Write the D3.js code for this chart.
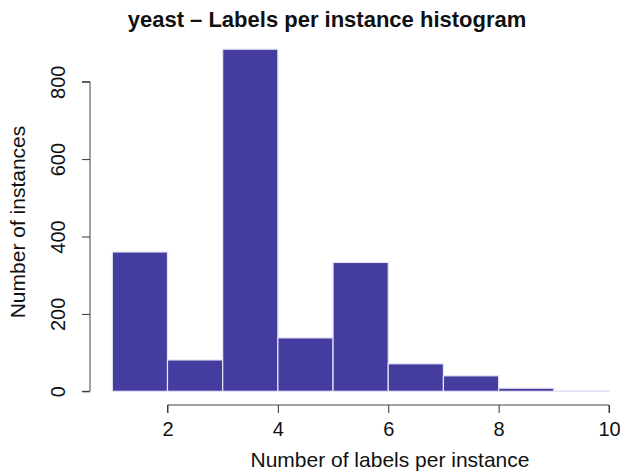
<!DOCTYPE html>
<html>
<head>
<meta charset="utf-8">
<script src="https://cdn.jsdelivr.net/npm/d3@7"></script>
<style>
  html, body { margin: 0; padding: 0; background: #fff; }
  svg { display: block; font-family: "Liberation Sans", Arial, Helvetica, sans-serif; }
</style>
</head>
<body>
<svg id="chart" width="620" height="471"></svg>
<script>
// Histogram bins: [start, end) number of labels, and instance counts per bin
const binStarts = [1, 2, 3, 4, 5, 6, 7, 8, 9];
const binEnds   = [2, 3, 4, 5, 6, 7, 8, 9, 10];
const counts    = [360, 81, 884, 138, 333, 71, 40, 8, 1];
const xTicks = [2, 4, 6, 8, 10];
const yTicks = [0, 200, 400, 600, 800];

const titleText = "yeast \u2013 Labels per instance histogram";
const xLabel = "Number of labels per instance";
const yLabel = "Number of instances";

const svg = d3.select("#chart");

const x = d3.scaleLinear().domain([1, 10]).range([112.3, 609]);
const y = d3.scaleLinear().domain([0, 800]).range([391.3, 81.7]);

// bars
svg.append("g").selectAll("rect")
  .data(counts.map((c, i) => ({ x0: binStarts[i], x1: binEnds[i], c })))
  .join("rect")
  .attr("x", d => x(d.x0))
  .attr("width", d => x(d.x1) - x(d.x0))
  .attr("y", d => y(d.c))
  .attr("height", d => y(0) - y(d.c))
  .attr("fill", "#443D9F")
  .attr("stroke", "#e6e5f5")
  .attr("stroke-width", 1.2);

// x axis (drawn below the plot, R style)
const xAxis = svg.append("g")
  .attr("transform", "translate(0,405)")
  .call(d3.axisBottom(x).tickValues(xTicks).tickSize(8).tickPadding(9).tickFormat(d3.format("d")));
xAxis.select(".domain").attr("stroke", "#444").attr("d", `M${x(2)},8V0H${x(10)}V8`);
xAxis.selectAll(".tick line").attr("stroke", "#333");
xAxis.selectAll(".tick text").attr("font-size", 20).attr("fill", "#111")
  .attr("font-family", "Liberation Sans, Arial, sans-serif");

// y axis with rotated tick labels
const yAxis = svg.append("g")
  .attr("transform", "translate(90,0)")
  .call(d3.axisLeft(y).tickValues(yTicks).tickSize(8).tickFormat(d3.format("d")));
yAxis.select(".domain").attr("stroke", "#444").attr("d", `M-8,${y(800)}H0V${y(0)}H-8`);
yAxis.selectAll(".tick line").attr("stroke", "#333");
yAxis.selectAll(".tick text")
  .attr("font-size", 20).attr("fill", "#111")
  .attr("font-family", "Liberation Sans, Arial, sans-serif")
  .attr("x", null).attr("dy", null)
  .attr("text-anchor", "middle")
  .attr("transform", "translate(-25,0) rotate(-90)");

// titles
svg.append("text")
  .attr("x", 327).attr("y", 27)
  .attr("text-anchor", "middle")
  .attr("font-size", 22).attr("font-weight", "bold").attr("fill", "#111")
  .text(titleText);

svg.append("text")
  .attr("x", 390).attr("y", 467)
  .attr("text-anchor", "middle")
  .attr("font-size", 21).attr("fill", "#111")
  .text(xLabel);

svg.append("text")
  .attr("transform", "translate(25,222) rotate(-90)")
  .attr("text-anchor", "middle")
  .attr("font-size", 21).attr("fill", "#111")
  .text(yLabel);
</script>
</body>
</html>
